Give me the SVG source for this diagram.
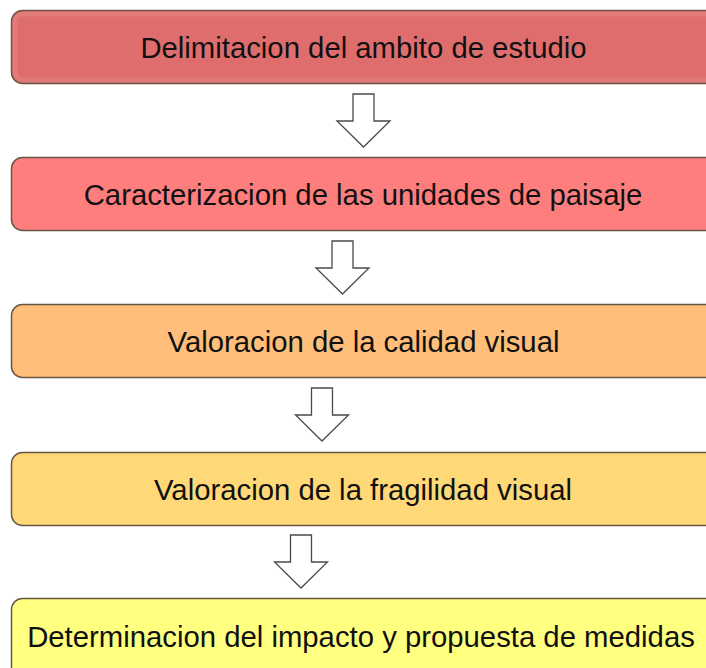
<svg xmlns="http://www.w3.org/2000/svg" xmlns:xlink="http://www.w3.org/1999/xlink" width="706" height="668" viewBox="0 0 706 668">
<style>
.box{stroke:#6a5646;stroke-width:1.5}
.inner{fill:none;stroke:#ffffff;stroke-opacity:0.09;stroke-width:5}
.lbl{font-family:"Liberation Sans",Arial,sans-serif;font-size:29.3px;fill:#111;text-anchor:middle}
.arr{fill:#fff;stroke:#4a4a4a;stroke-width:1.3;stroke-linejoin:miter}
</style>
<defs>
<path id="arrow" class="arr" d="M-10.5,0 h21 v27 h16 L0,53 L-26.5,27 h16 z"/>
</defs>
<rect width="706" height="668" fill="#ffffff"/>
<g id="connectors">
<use xlink:href="#arrow" transform="translate(363.5,94)"/>
<use xlink:href="#arrow" transform="translate(342.5,241)"/>
<use xlink:href="#arrow" transform="translate(322,388)"/>
<use xlink:href="#arrow" transform="translate(301,535)"/>
</g>
<g id="n1">
<rect class="box" x="11.5" y="10.5" width="710" height="73" rx="11" fill="#e06d6d"/>
<rect class="inner" x="15" y="14" width="703" height="66" rx="8"/>
<text class="lbl" x="363.5" y="57.5">Delimitacion del ambito de estudio</text>
</g>
<g id="n2">
<rect class="box" x="11.5" y="157.5" width="710" height="73" rx="11" fill="#fe7e7e"/>
<text class="lbl" x="363" y="204.5">Caracterizacion de las unidades de paisaje</text>
</g>
<g id="n3">
<rect class="box" x="11.5" y="304.5" width="710" height="73" rx="11" fill="#ffbe7a"/>
<text class="lbl" x="363.5" y="351.5">Valoracion de la calidad visual</text>
</g>
<g id="n4">
<rect class="box" x="11.5" y="452.5" width="710" height="73" rx="11" fill="#ffd978"/>
<text class="lbl" x="363" y="499.5">Valoracion de la fragilidad visual</text>
</g>
<g id="n5">
<rect class="box" x="11.5" y="598.5" width="710" height="80" rx="11" fill="#ffff80"/>
<text class="lbl" x="361" y="646.5">Determinacion del impacto y propuesta de medidas</text>
</g>
</svg>
